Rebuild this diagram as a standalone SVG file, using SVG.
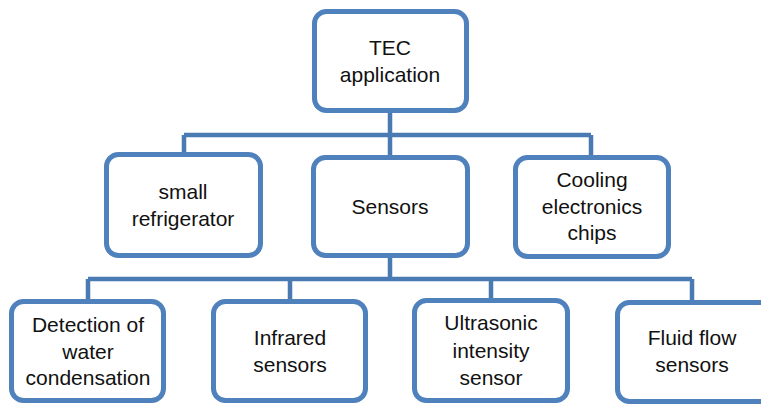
<svg xmlns="http://www.w3.org/2000/svg" width="761" height="405" viewBox="0 0 761 405">
<style>
.box{fill:#ffffff;stroke:#4F81BD;stroke-width:5}
.conn{fill:none;stroke:#4A7AB2;stroke-width:4.5}
text{font-family:"Liberation Sans",Arial,sans-serif;font-size:21px;fill:#111111;text-anchor:middle}
</style>
<rect width="761" height="405" fill="#ffffff"/>
<g id="connectors">
<path class="conn" d="M390 112V135M184 135H591M184 135V154M390 135V157M591 135V157"/>
<path class="conn" d="M390 256V279M88 279H692M88 279V301M290 279V301M491 279V300M692 279V302"/>
</g>
<g id="tec">
<rect class="box" x="314.5" y="11.5" width="152" height="99" rx="12"/>
<text x="390" y="55">TEC</text>
<text x="390" y="82">application</text>
</g>
<g id="refrigerator">
<rect class="box" x="106.5" y="154.5" width="154" height="101" rx="12"/>
<text x="183" y="199">small</text>
<text x="183" y="226">refrigerator</text>
</g>
<g id="sensors">
<rect class="box" x="313.5" y="157.5" width="154" height="98" rx="12"/>
<text x="390" y="214">Sensors</text>
</g>
<g id="cooling">
<rect class="box" x="515.5" y="157.5" width="153" height="99" rx="12"/>
<text x="592" y="187">Cooling</text>
<text x="592" y="213.5">electronics</text>
<text x="592" y="240">chips</text>
</g>
<g id="detection">
<rect class="box" x="11.5" y="301.5" width="152" height="99" rx="12"/>
<text x="88" y="332">Detection of</text>
<text x="88" y="358.5">water</text>
<text x="88" y="385">condensation</text>
</g>
<g id="infrared">
<rect class="box" x="213.5" y="301.5" width="152" height="99" rx="12"/>
<text x="290" y="345">Infrared</text>
<text x="290" y="372">sensors</text>
</g>
<g id="ultrasonic">
<rect class="box" x="414.5" y="300.5" width="153" height="100" rx="12"/>
<text x="491" y="330">Ultrasonic</text>
<text x="491" y="358">intensity</text>
<text x="491" y="385">sensor</text>
</g>
<g id="fluid">
<rect class="box" x="617.5" y="302.5" width="162" height="99" rx="12"/>
<text x="692" y="345">Fluid flow</text>
<text x="692" y="372">sensors</text>
</g>
</svg>
